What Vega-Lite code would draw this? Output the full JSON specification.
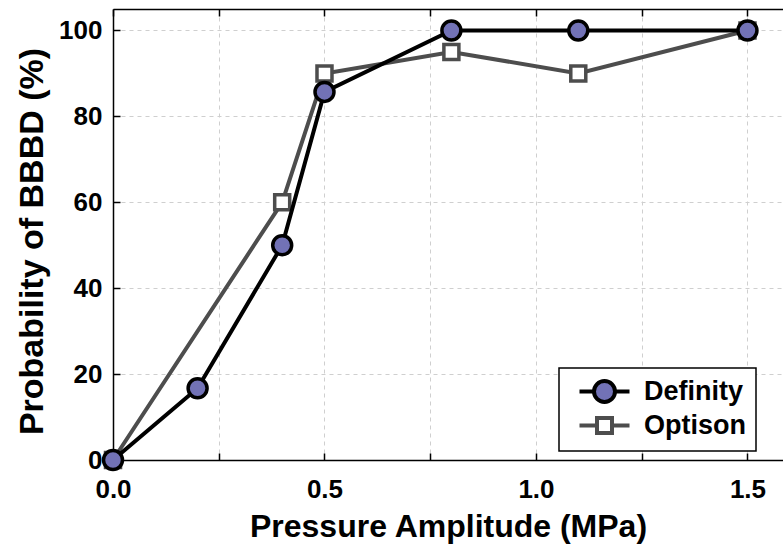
{
  "$schema": "https://vega.github.io/schema/vega-lite/v6.json",
  "width": 670,
  "height": 451,
  "autosize": {"type": "none"},
  "padding": {"left": 113, "top": 9, "right": 0, "bottom": 89},
  "background": "white",
  "config": {"view": {"stroke": null}, "legend": {"strokeWidth": 1.5}},
  "data": {
    "values": [
      {"series": "Definity", "x": 0.0, "y": 0},
      {"series": "Definity", "x": 0.2, "y": 16.7},
      {"series": "Definity", "x": 0.4, "y": 50},
      {"series": "Definity", "x": 0.5, "y": 85.7},
      {"series": "Definity", "x": 0.8, "y": 100},
      {"series": "Definity", "x": 1.1, "y": 100},
      {"series": "Definity", "x": 1.5, "y": 100},
      {"series": "Optison", "x": 0.0, "y": 0},
      {"series": "Optison", "x": 0.4, "y": 60},
      {"series": "Optison", "x": 0.5, "y": 90},
      {"series": "Optison", "x": 0.8, "y": 95},
      {"series": "Optison", "x": 1.1, "y": 90},
      {"series": "Optison", "x": 1.5, "y": 100}
    ]
  },
  "resolve": {"axis": {"x": "independent", "y": "independent"}},
  "layer": [
    {
      "transform": [{"filter": "datum.series === 'Optison'"}],
      "mark": {"type": "line", "stroke": "#4d4d4d", "strokeWidth": 4},
      "encoding": {
        "x": {"field": "x", "type": "quantitative", "scale": {"domain": [0, 1.584], "nice": false, "zero": false},
          "axis": {"orient": "bottom", "values": [0, 0.25, 0.5, 0.75, 1.0, 1.25, 1.5],
            "labelExpr": "datum.value % 0.5 == 0 ? format(datum.value, '.1f') : ''",
            "grid": true, "gridDash": [4, 4], "gridColor": "#cfcfcf", "gridWidth": 1,
            "ticks": false, "domain": true, "domainColor": "black", "domainWidth": 1.5,
            "labelFont": "Liberation Sans", "labelFontWeight": "bold", "labelFontSize": 26, "labelColor": "black",
            "labelBaseline": "alphabetic", "labelPadding": 37, "labelFlush": false, "labelOverlap": false,
            "title": "Pressure Amplitude (MPa)", "titleFont": "Liberation Sans", "titleFontSize": 32, "titleFontWeight": "bold",
            "titleColor": "black", "titleX": 335, "titleY": 76, "titleBaseline": "alphabetic", "titleAlign": "center", "zindex": 0}},
        "y": {"field": "y", "type": "quantitative", "scale": {"domain": [0, 105], "nice": false},
          "axis": {"orient": "left", "values": [0, 20, 40, 60, 80, 100],
            "grid": true, "gridDash": [4, 4], "gridColor": "#cfcfcf", "gridWidth": 1,
            "ticks": false, "domain": true, "domainColor": "black", "domainWidth": 1.5,
            "labelFont": "Liberation Sans", "labelFontWeight": "bold", "labelFontSize": 26, "labelColor": "black",
            "labelPadding": 11, "labelFlush": false, "labelOverlap": false,
            "title": "Probability of BBBD (%)", "titleFont": "Liberation Sans", "titleFontSize": 34, "titleFontWeight": "bold",
            "titleColor": "black", "titleAngle": -90, "titleX": -71, "titleY": 232, "titleBaseline": "alphabetic", "titleAlign": "center", "zindex": 0}}
      }
    },
    {
      "transform": [{"filter": "datum.series === 'Optison'"}],
      "mark": {"type": "point", "shape": "square", "filled": true, "fill": "white", "stroke": "#4d4d4d", "strokeWidth": 3.5, "size": 225, "opacity": 1},
      "encoding": {
        "x": {"field": "x", "type": "quantitative", "scale": {"domain": [0, 1.584], "nice": false, "zero": false},
          "axis": {"orient": "bottom", "values": [0, 0.25, 0.5, 0.75, 1.0, 1.25, 1.5], "labels": false, "domain": false, "grid": false,
            "ticks": true, "tickSize": -7, "tickColor": "black", "tickWidth": 1.5, "title": null, "zindex": 0}},
        "y": {"field": "y", "type": "quantitative", "scale": {"domain": [0, 105], "nice": false},
          "axis": {"orient": "left", "values": [0, 20, 40, 60, 80, 100], "labels": false, "domain": false, "grid": false,
            "ticks": true, "tickSize": -7, "tickColor": "black", "tickWidth": 1.5, "title": null, "zindex": 0}}
      }
    },
    {
      "transform": [{"filter": "datum.series === 'Definity'"}],
      "mark": {"type": "line", "stroke": "black", "strokeWidth": 4},
      "encoding": {
        "x": {"field": "x", "type": "quantitative", "scale": {"domain": [0, 1.584], "nice": false, "zero": false}, "axis": null},
        "y": {"field": "y", "type": "quantitative", "scale": {"domain": [0, 105], "nice": false}, "axis": null}
      }
    },
    {
      "transform": [{"filter": "datum.series === 'Definity'"}],
      "mark": {"type": "point", "shape": "circle", "filled": true, "fill": "#7272b6", "stroke": "black", "strokeWidth": 3.5, "size": 360, "opacity": 1},
      "encoding": {
        "x": {"field": "x", "type": "quantitative", "scale": {"domain": [0, 1.584], "nice": false, "zero": false}, "axis": null},
        "y": {"field": "y", "type": "quantitative", "scale": {"domain": [0, 105], "nice": false}, "axis": null}
      }
    },
    {
      "transform": [{"filter": "datum.x < 0"}],
      "mark": {"type": "point", "filled": true, "opacity": 1, "strokeWidth": 4, "size": 400},
      "encoding": {
        "x": {"field": "x", "type": "quantitative", "scale": {"domain": [0, 1.584], "nice": false, "zero": false},
          "axis": {"orient": "top", "values": [0, 0.25, 0.5, 0.75, 1.0, 1.25, 1.5], "labels": false, "grid": false,
            "domain": true, "domainColor": "black", "domainWidth": 1.5,
            "ticks": true, "tickSize": -7, "tickColor": "black", "tickWidth": 1.5, "title": null, "zindex": 0}},
        "y": {"field": "y", "type": "quantitative", "scale": {"domain": [0, 105], "nice": false}, "axis": null},
        "shape": {"field": "series", "type": "nominal",
          "scale": {"domain": ["Definity", "Optison"], "range": [
            "M-2.5,0L-1.05,0M1.05,0L2.5,0M1.05,0A1.05,1.05,0,1,1,-1.05,0A1.05,1.05,0,1,1,1.05,0Z",
            "M-2.5,0L-0.75,0M0.75,0L2.5,0M-0.75,-0.75L0.75,-0.75L0.75,0.75L-0.75,0.75Z"]},
          "legend": {"orient": "none", "legendX": 446, "legendY": 359, "title": null, "direction": "vertical",
            "padding": 10, "strokeColor": "black", "fillColor": "white", "cornerRadius": 0,
            "symbolSize": 400, "symbolStrokeWidth": 4, "symbolOffset": 22, "labelOffset": 26,
            "labelFont": "Liberation Sans", "labelFontSize": 27, "labelFontWeight": "bold", "labelColor": "black",
            "rowPadding": 0}},
        "fill": {"field": "series", "type": "nominal", "scale": {"domain": ["Definity", "Optison"], "range": ["#7272b6", "white"]}},
        "stroke": {"field": "series", "type": "nominal", "scale": {"domain": ["Definity", "Optison"], "range": ["black", "#4d4d4d"]}}
      }
    }
  ]
}
